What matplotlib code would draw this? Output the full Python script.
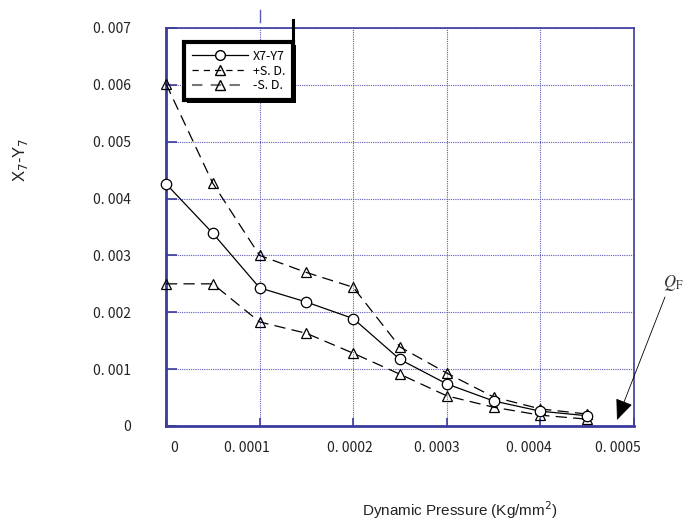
import matplotlib
matplotlib.use("Agg")
import matplotlib.pyplot as plt
from matplotlib.lines import Line2D
from matplotlib.transforms import offset_copy

# --- data
pressure = [0.0, 0.00005, 0.0001, 0.00015, 0.0002, 0.00025, 0.0003, 0.00035, 0.0004, 0.00045]
x7_y7 = [0.00426, 0.00339, 0.00243, 0.00218, 0.00189, 0.00117, 0.00074, 0.00044, 0.00026, 0.00018]
plus_sd = [0.00602, 0.00427, 0.00300, 0.00270, 0.00244, 0.00139, 0.00093, 0.00051, 0.00030, 0.00021]
minus_sd = [0.00250, 0.00250, 0.00183, 0.00163, 0.00128, 0.00091, 0.00053, 0.00033, 0.00019, 0.00012]

x_ticks = [0.0, 0.0001, 0.0002, 0.0003, 0.0004, 0.0005]
x_tick_labels = ["0", "0. 0001", "0. 0002", "0. 0003", "0. 0004", "0. 0005"]
x_label_shift = [8, -13, -3, -10, -12, -16]  # labels in the scan are not centred on the grid
y_ticks = [0.0, 0.001, 0.002, 0.003, 0.004, 0.005, 0.006, 0.007]
y_tick_labels = ["0", "0. 001", "0. 002", "0. 003", "0. 004", "0. 005", "0. 006", "0. 007"]

BLUE = "#3b3b9e"
GRID = "#5a5ab8"
JP = ["Noto Sans CJK JP", "DejaVu Sans"]

fig = plt.figure(figsize=(6.95, 5.23), dpi=100)
ax = fig.add_axes([0.2388, 0.1855, 0.6734, 0.761])

dash = (0, (9, 5))
ax.plot(pressure, x7_y7, color="black", lw=0.9, marker="o", ms=7.5,
        mfc="white", mec="black", mew=0.9, zorder=4, clip_on=False)
ax.plot(pressure, plus_sd, color="black", lw=0.9, ls=dash, marker="^", ms=7.5,
        mfc="none", mec="black", mew=0.9, zorder=3, clip_on=False)
ax.plot(pressure, minus_sd, color="black", lw=0.9, ls=dash, marker="^", ms=7.5,
        mfc="none", mec="black", mew=0.9, zorder=3, clip_on=False)

ax.set_xlim(0, 0.0005)
ax.set_ylim(0, 0.007)
ax.set_xticks(x_ticks)
ax.set_yticks(y_ticks)
ax.set_xticklabels([])
ax.set_yticklabels(y_tick_labels, fontfamily=JP, fontsize=10)
ax.tick_params(axis="y", direction="in", length=8, color=BLUE, width=1.2, pad=25)
ax.tick_params(axis="x", direction="in", length=6, color=BLUE, width=1.2)
for lab in ax.get_yticklabels():
    lab.set_color("#222222")

# x tick labels placed by hand with a small pixel shift each
for xv, txt, dx in zip(x_ticks, x_tick_labels, x_label_shift):
    tr = offset_copy(ax.get_xaxis_transform(), fig=fig, x=dx, y=-22, units="dots")
    ax.text(xv, 0, txt, transform=tr, ha="center", va="center",
            fontsize=10, fontfamily=JP, color="#222222")

ax.grid(True, color=GRID, ls=(0, (1, 1)), lw=0.8)
for side, s in ax.spines.items():
    s.set_color(BLUE)
    s.set_linewidth(2.0 if side in ("left", "bottom") else 1.2)

# legend
handles = [
    Line2D([], [], color="black", lw=0.9, marker="o", ms=7, mfc="white", mec="black"),
    Line2D([], [], color="black", lw=0.9, ls=(0, (5, 4)), marker="^", ms=7, mfc="none", mec="black"),
    Line2D([], [], color="#777777", lw=1.5, ls=(0, (5, 4)), marker="^", ms=7, mfc="none", mec="black"),
]
leg = ax.legend(handles, ["X7-Y7", "+S. D.", "-S. D."], loc="upper left",
                bbox_to_anchor=(0.026, 0.98), handlelength=4.5, handletextpad=0.4,
                labelspacing=0.15, borderpad=0.6, fancybox=False, framealpha=1,
                prop={"family": JP, "size": 9},
                shadow={"fc": "black", "alpha": 1, "ec": "none"})
leg.get_frame().set_edgecolor("black")
leg.get_frame().set_linewidth(3)
leg.set_zorder(6)

# stray marks above the plot
fig.add_artist(Line2D([260 / 695, 260 / 695], [1 - 10 / 523, 1 - 22 / 523],
                      color=GRID, lw=1))
fig.add_artist(Line2D([293 / 695, 293 / 695], [1 - 20 / 523, 1 - 41 / 523],
                      color="black", lw=2.2))

# Q_F annotation
ax.annotate("", xy=(617 / 695, 1 - 420 / 523), xycoords="figure fraction",
            xytext=(665 / 695, 1 - 297 / 523), textcoords="figure fraction",
            arrowprops=dict(arrowstyle="-|>,head_length=1.3,head_width=0.55",
                            color="black", lw=0.6, shrinkA=0, shrinkB=0),
            annotation_clip=False)
fig.text(673 / 695, 1 - 283 / 523, r"$Q_{\mathrm{F}}$", ha="center", va="center",
         fontsize=12, family="DejaVu Serif", math_fontfamily="stix", color="#333333")

fig.text(20 / 695, 1 - 160 / 523, r"X$_7$-Y$_7$", rotation=90, ha="center",
         va="center", fontsize=12, family="Liberation Sans", color="#222222")
fig.text(460 / 695, 1 - 510 / 523, r"Dynamic Pressure (Kg/mm$^2$)", ha="center",
         va="center", fontsize=11, family="Liberation Sans", color="#222222")

fig.savefig("out.png", dpi=100)
